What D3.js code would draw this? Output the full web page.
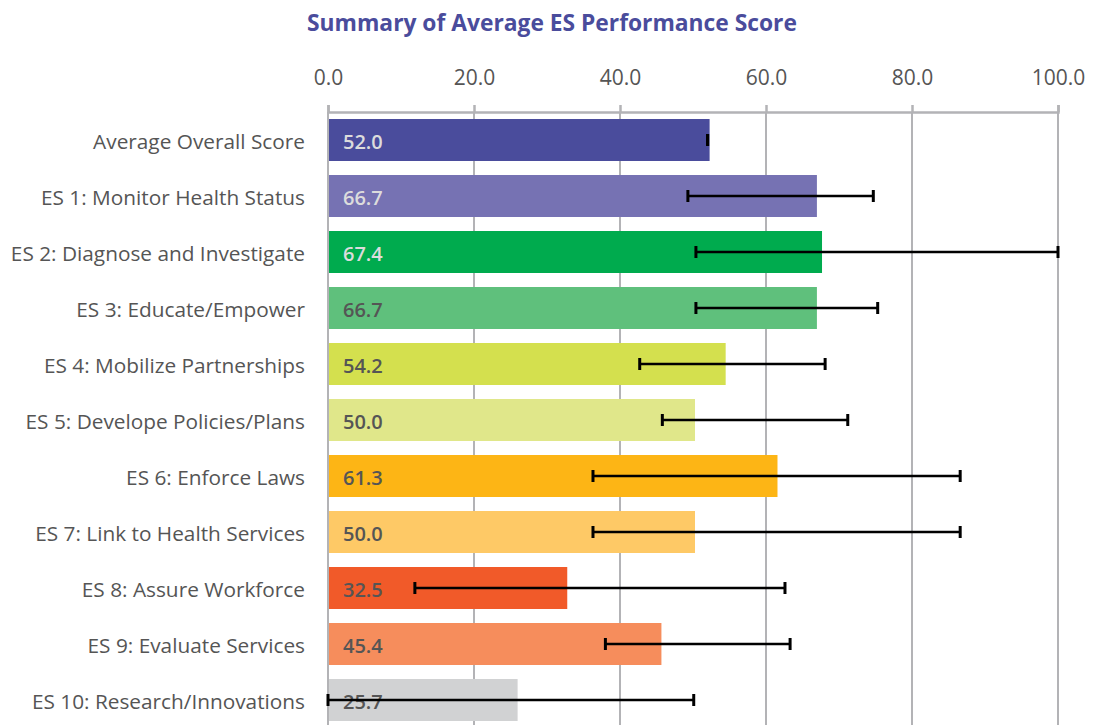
<!DOCTYPE html>
<html>
<head>
<meta charset="utf-8">
<script src="https://cdn.jsdelivr.net/npm/d3@7"></script>
<style>
  html, body { margin: 0; padding: 0; background: #fff; }
  svg { display: block; }
  .cat-label { font-family: "Open Sans", "Noto Sans", sans-serif; font-size: 20.8px; fill: #555; }
  .tick text { font-family: "Open Sans", "Noto Sans", sans-serif; font-size: 21px; fill: #555; }
  .val-label { font-family: "Open Sans", "Noto Sans", sans-serif; font-size: 20px; font-weight: 600; }
</style>
</head>
<body>
<div id="chart"></div>
<script>
// Chart data
const categories = [
  "Average Overall Score",
  "ES 1: Monitor Health Status",
  "ES 2: Diagnose and Investigate",
  "ES 3: Educate/Empower",
  "ES 4: Mobilize Partnerships",
  "ES 5: Develope Policies/Plans",
  "ES 6: Enforce Laws",
  "ES 7: Link to Health Services",
  "ES 8: Assure Workforce",
  "ES 9: Evaluate Services",
  "ES 10: Research/Innovations"
];
const scores = [52.0, 66.7, 67.4, 66.7, 54.2, 50.0, 61.3, 50.0, 32.5, 45.4, 25.7];
const errorLow = [52.0, 49.3, 50.4, 50.4, 42.7, 45.8, 36.3, 36.3, 11.9, 38.0, 0.0];
const errorHigh = [52.0, 74.7, 100.0, 75.3, 68.1, 71.2, 86.6, 86.6, 62.6, 63.3, 50.1];
const tickValues = [0, 20, 40, 60, 80, 100];

const barColors = [
  "#4a4c9c", "#7672b3", "#00ab4e", "#5fc07c", "#d4e04e", "#e0e78a",
  "#fdb515", "#fec966", "#f15a29", "#f68d5c", "#d1d2d3"
];
const lightLabelRows = 3; // first rows carry light value labels

const width = 1093, height = 725;

const svg = d3.select("#chart").append("svg")
  .attr("width", width)
  .attr("height", height);

const x = d3.scaleLinear().domain([0, 100]).range([328, 1058]);
const y = d3.scaleBand()
  .domain(categories)
  .range([112, 112 + categories.length * 56])
  .paddingInner(0.25)
  .paddingOuter(0.125);

// title
svg.append("text")
  .attr("x", 552)
  .attr("y", 31)
  .attr("text-anchor", "middle")
  .style("font-family", "'Open Sans', 'Noto Sans', sans-serif")
  .style("font-size", "22.8px")
  .style("font-weight", "700")
  .style("fill", "#4a4c9c")
  .text("Summary of Average ES Performance Score");

// grid lines
svg.append("g")
  .selectAll("line")
  .data(tickValues)
  .join("line")
  .attr("x1", d => x(d))
  .attr("x2", d => x(d))
  .attr("y1", 112)
  .attr("y2", height)
  .attr("stroke", "#b3b3b6")
  .attr("stroke-width", 2);

// top axis
const axis = svg.append("g")
  .attr("transform", "translate(0,112)")
  .call(d3.axisTop(x)
    .tickValues(tickValues)
    .tickFormat(d3.format(".1f"))
    .tickSize(7)
    .tickSizeOuter(7)
    .tickPadding(20));
axis.selectAll("path, line").attr("stroke", "#b3b3b6").attr("stroke-width", 2.5);

// bars
svg.append("g")
  .selectAll("rect")
  .data(categories)
  .join("rect")
  .attr("x", x(0) + 1)
  .attr("y", d => y(d))
  .attr("width", (d, i) => x(scores[i]) - x(0) + 1)
  .attr("height", y.bandwidth())
  .attr("fill", (d, i) => barColors[i]);

// category labels
svg.append("g")
  .selectAll("text")
  .data(categories)
  .join("text")
  .attr("class", "cat-label")
  .attr("x", 305)
  .attr("y", d => y(d) + y.bandwidth() / 2 + 2)
  .attr("dy", "0.36em")
  .attr("text-anchor", "end")
  .text(d => d);

// value labels
svg.append("g")
  .selectAll("text")
  .data(categories)
  .join("text")
  .attr("class", "val-label")
  .attr("x", x(0) + 15)
  .attr("y", d => y(d) + y.bandwidth() / 2 + 2)
  .attr("dy", "0.36em")
  .attr("fill", (d, i) => i < lightLabelRows ? "#dcdcdc" : "#555")
  .text((d, i) => d3.format(".1f")(scores[i]));

// error bars
const err = svg.append("g").attr("stroke", "#000");
categories.forEach((c, i) => {
  const cy = y(c) + y.bandwidth() / 2;
  err.append("line")
    .attr("x1", x(errorLow[i])).attr("x2", x(errorHigh[i]))
    .attr("y1", cy).attr("y2", cy)
    .attr("stroke-width", 2.5);
  [errorLow[i], errorHigh[i]].forEach(v => {
    err.append("line")
      .attr("x1", x(v)).attr("x2", x(v))
      .attr("y1", cy - 6).attr("y2", cy + 6)
      .attr("stroke-width", 3);
  });
});
</script>
</body>
</html>
